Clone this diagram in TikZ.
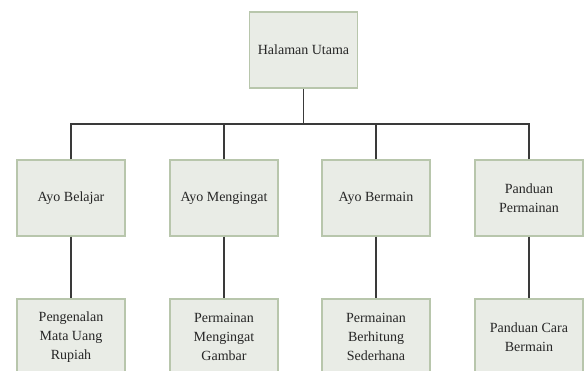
\documentclass[tikz,border=0pt]{standalone}
\usepackage{fontspec}
\setmainfont{Liberation Serif}
\definecolor{boxfill}{HTML}{E9ECE6}
\definecolor{boxdraw}{HTML}{B8C6AC}
\definecolor{linecol}{HTML}{3A3A3A}
\begin{document}
\begin{tikzpicture}[x=1pt,y=-1pt,
  box/.style={draw=boxdraw,fill=boxfill,line width=1.2pt,minimum width=108pt,minimum height=76pt,
    inner sep=2pt,align=center,font=\fontsize{14}{19}\selectfont,text=black!85},
  conn/.style={draw=linecol,line width=1.3pt}]
\useasboundingbox (0,0) rectangle (587,370);
\clip (0,0) rectangle (587,370);
\node[box] (hu) at (303.5,50) {Halaman Utama};
\node[box] (a) at (71,198) {Ayo Belajar};
\node[box] (b) at (224,198) {Ayo Mengingat};
\node[box] (c) at (376,198) {Ayo Bermain};
\node[box] (d) at (529,198) {Panduan\\Permainan};
\node[box] (a3) at (71,337) {Pengenalan\\Mata Uang\\Rupiah};
\node[box] (b3) at (224,337) {Permainan\\Mengingat\\Gambar};
\node[box] (c3) at (376,337) {Permainan\\Berhitung\\Sederhana};
\node[box] (d3) at (529,337) {Panduan Cara\\Bermain};
\coordinate (bus) at (303.5,124);
\draw[conn] (hu.south) -- (bus);
\foreach \n in {a,b,c,d} {
  \draw[conn] (\n.north) |- (bus);
  \draw[conn] (\n.south) -- (\n3.north);
}
\end{tikzpicture}
\end{document}
